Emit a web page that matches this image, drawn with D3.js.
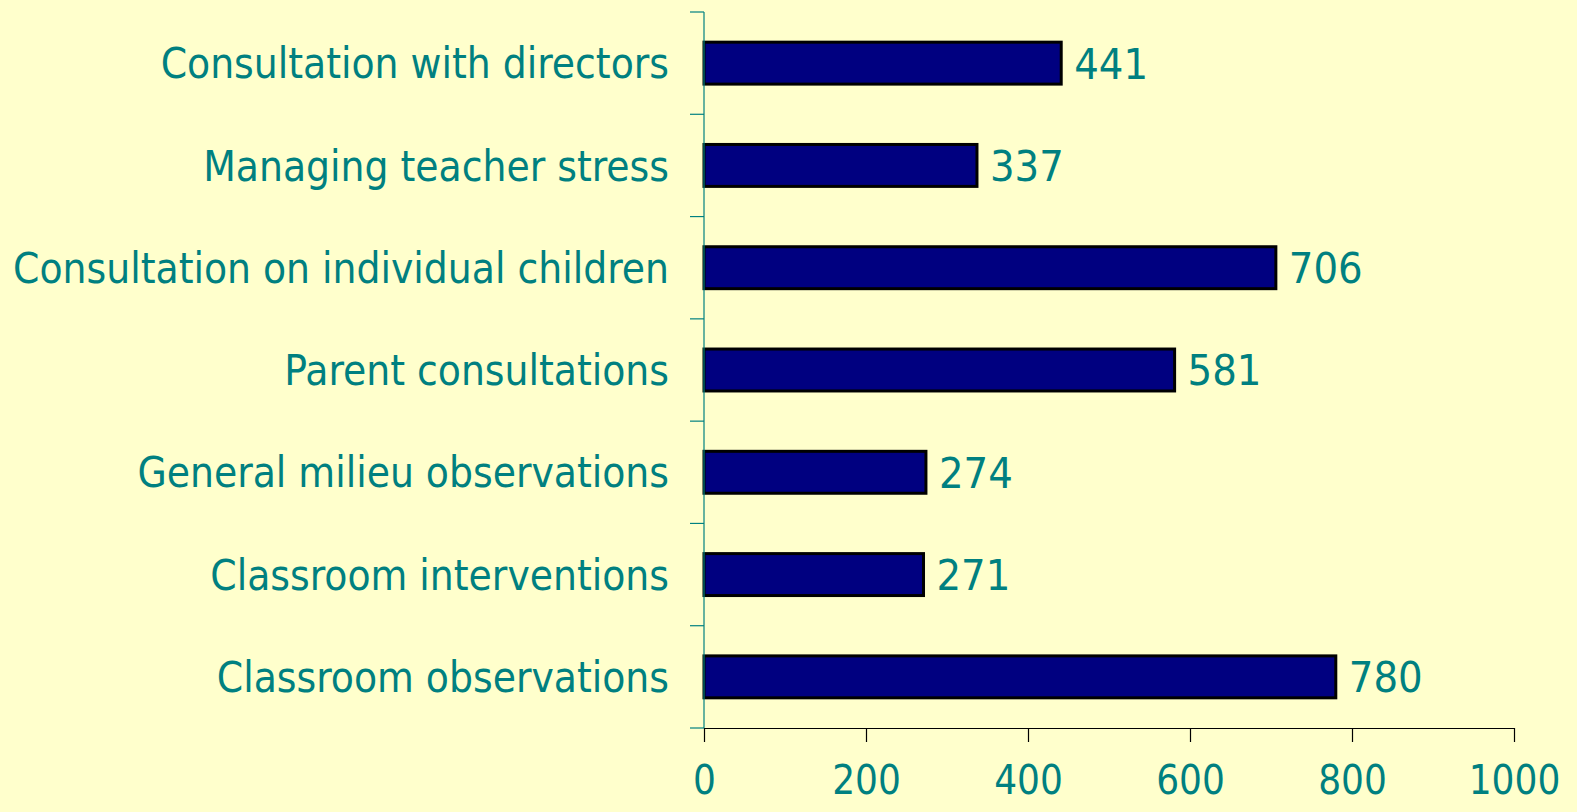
<!DOCTYPE html>
<html>
<head>
<meta charset="utf-8">
<script src="https://cdn.jsdelivr.net/npm/d3@7"></script>
<style>
  body { margin: 0; background: #ffffcc; }
  svg { display: block; }
  text { font-family: "DejaVu Sans Condensed", "DejaVu Sans", sans-serif; fill: #008080; }
</style>
</head>
<body>
<div class="mainCont"></div>
<script>
var categories = ["Consultation with directors", "Managing teacher stress", "Consultation on individual children",
    "Parent consultations", "General milieu observations", "Classroom interventions", "Classroom observations"];
var values = [441, 337, 706, 581, 274, 271, 780];
var xTicks = [0, 200, 400, 600, 800, 1000];

var width = 1577, height = 812;
var margin = { top: 12, left: 704, right: 63, bottom: 84 };

var svg = d3.select(".mainCont").append("svg")
    .attr("width", width)
    .attr("height", height);

var x = d3.scaleLinear()
    .domain([0, 1000])
    .range([margin.left, width - margin.right]);

var y = d3.scaleBand()
    .domain(categories)
    .range([margin.top, height - margin.bottom])
    .paddingInner(0.59)
    .paddingOuter(0.295);

var yEdge = d3.scaleLinear()
    .domain([0, categories.length])
    .range([margin.top, height - margin.bottom]);

// bars
svg.selectAll("rect.bar")
    .data(values)
    .enter().append("rect")
    .attr("class", "bar")
    .attr("x", x(0))
    .attr("y", function(d, i) { return y(categories[i]); })
    .attr("width", function(d) { return x(d) - x(0); })
    .attr("height", y.bandwidth())
    .style("fill", "#000080")
    .style("stroke", "#000")
    .style("stroke-width", 3);

// value labels
svg.selectAll("text.val")
    .data(values)
    .enter().append("text")
    .attr("class", "val")
    .attr("x", function(d) { return x(d) + 13; })
    .attr("y", function(d, i) { return y(categories[i]) + y.bandwidth() / 2; })
    .attr("dy", "0.36em")
    .style("font-size", "43px")
    .text(function(d) { return d; });

// y axis (teal)
var yAxis = svg.append("g");
yAxis.append("line")
    .attr("x1", x(0)).attr("x2", x(0))
    .attr("y1", yEdge(0)).attr("y2", yEdge(categories.length))
    .style("stroke", "#008080").style("stroke-width", 1.2);
yAxis.selectAll("line.tk")
    .data(d3.range(categories.length + 1))
    .enter().append("line")
    .attr("class", "tk")
    .attr("x1", x(0) - 14).attr("x2", x(0))
    .attr("y1", function(d) { return yEdge(d); })
    .attr("y2", function(d) { return yEdge(d); })
    .style("stroke", "#008080").style("stroke-width", 1.2);

yAxis.selectAll("text.cat")
    .data(categories)
    .enter().append("text")
    .attr("class", "cat")
    .attr("x", x(0) - 35)
    .attr("y", function(d) { return y(d) + y.bandwidth() / 2; })
    .attr("dy", "0.36em")
    .attr("text-anchor", "end")
    .style("font-size", "42px")
    .text(function(d) { return d; });

// x axis (black)
var xAxis = svg.append("g")
    .attr("transform", "translate(0," + yEdge(categories.length) + ")")
    .call(d3.axisBottom(x).tickValues(xTicks).tickFormat(d3.format("d"))
        .tickSize(14).tickSizeOuter(0).tickPadding(24));
xAxis.select(".domain").style("stroke", "#000").style("stroke-width", 1.2);
xAxis.selectAll(".tick line").style("stroke", "#000").style("stroke-width", 1.2);
xAxis.selectAll(".tick text")
    .style("fill", "#008080")
    .style("font-size", "40px")
    .style("font-family", "\"DejaVu Sans Condensed\", \"DejaVu Sans\", sans-serif");
</script>
</body>
</html>
